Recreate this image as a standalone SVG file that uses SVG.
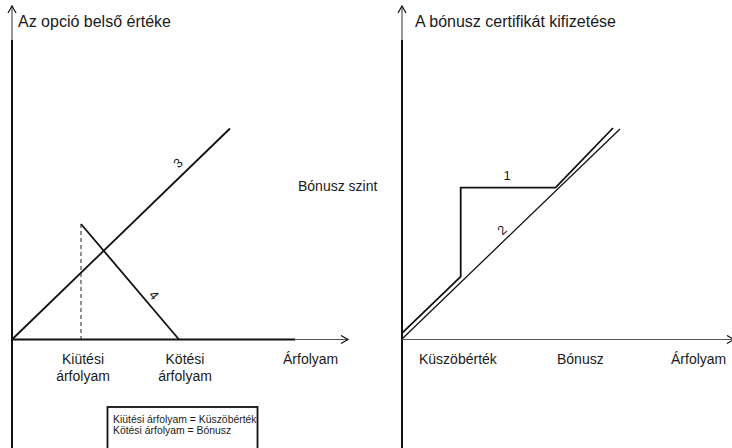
<svg xmlns="http://www.w3.org/2000/svg" width="732" height="448" viewBox="0 0 732 448">
  <style>
    text { font-family: "Liberation Sans", Arial, sans-serif; fill: #1a1a1a; }
    .title { font-size: 16px; }
    .lbl { font-size: 14px; }
    .num { font-size: 13px; }
    .note { font-size: 10.4px; }
    .axis { stroke: #111; stroke-width: 2; fill: none; }
    .axis-thin { stroke: #555; stroke-width: 1.2; fill: none; }
    .curve { stroke: #111; stroke-width: 1.8; fill: none; }
    .curve-thin { stroke: #111; stroke-width: 1.3; fill: none; }
    .dash { stroke: #222; stroke-width: 1; stroke-dasharray: 4 3; fill: none; }
  </style>
  <defs>
    <marker id="open-arrow" markerWidth="10" markerHeight="10" refX="8" refY="5" orient="auto" markerUnits="userSpaceOnUse">
      <path d="M1,1 L8,5 L1,9" fill="none" stroke="#111" stroke-width="1.2"/>
    </marker>
  </defs>
  <rect width="732" height="448" fill="#ffffff"/>

  <!-- Left chart: option intrinsic value -->
  <g id="left-axes">
    <line class="axis-thin" x1="12" y1="40" x2="12" y2="6" marker-end="url(#open-arrow)"/>
    <line class="axis" x1="12" y1="448" x2="12" y2="40"/>
    <line class="axis-thin" x1="12" y1="339.5" x2="348" y2="339.5" marker-end="url(#open-arrow)"/>
    <line class="axis" x1="12" y1="339.5" x2="295" y2="339.5"/>
  </g>
  <g id="left-title"><text class="title" x="18" y="27">Az opció belső értéke</text></g>

  <g id="connectors-left">
    <!-- 3: call payoff -->
    <line class="curve" x1="12" y1="339.5" x2="230" y2="128.5"/>
    <!-- 4: knock-out put payoff -->
    <line class="curve" x1="81" y1="224" x2="179" y2="339.5"/>
    <line class="dash" x1="81" y1="224" x2="81" y2="339"/>
  </g>
  <g id="line-3-label"><text class="num" transform="translate(178,163) rotate(-44)" text-anchor="middle" y="4.5">3</text></g>
  <g id="line-4-label"><text class="num" transform="translate(154,295) rotate(50)" text-anchor="middle" y="4.5">4</text></g>

  <g id="left-ticks">
    <text class="lbl" x="83" y="364" text-anchor="middle">Kiütési</text>
    <text class="lbl" x="83" y="381" text-anchor="middle">árfolyam</text>
    <text class="lbl" x="185" y="364" text-anchor="middle">Kötési</text>
    <text class="lbl" x="185" y="381" text-anchor="middle">árfolyam</text>
    <text class="lbl" x="283" y="364">Árfolyam</text>
  </g>

  <g id="legend">
    <rect x="107.5" y="407" width="150" height="50" fill="#fff" stroke="#111" stroke-width="1.8"/>
    <text class="note" x="113" y="423">Kiütési árfolyam = Küszöbérték</text>
    <text class="note" x="113" y="434">Kötési árfolyam = Bónusz</text>
  </g>

  <!-- Right chart: bonus certificate payoff -->
  <g id="right-axes">
    <line class="axis-thin" x1="402" y1="40" x2="402" y2="6" marker-end="url(#open-arrow)"/>
    <line class="axis" x1="402" y1="448" x2="402" y2="40"/>
    <line class="axis-thin" x1="402" y1="339.5" x2="734" y2="339.5" marker-end="url(#open-arrow)"/>
  </g>
  <g id="right-title"><text class="title" x="415" y="27">A bónusz certifikát kifizetése</text></g>
  <g id="bonus-level"><text class="lbl" x="298" y="191">Bónusz szint</text></g>

  <g id="connectors-right">
    <!-- 2: underlying -->
    <line class="curve-thin" x1="402" y1="339" x2="620" y2="129"/>
    <!-- 1: bonus certificate -->
    <polyline class="curve" points="402,333.2 460.7,276.7 460.7,187.7 555.5,187.7 613,128"/>
  </g>
  <g id="line-1-label"><text class="num" x="507" y="180" text-anchor="middle">1</text></g>
  <g id="line-2-label"><text class="num" transform="translate(502,230) rotate(-44)" text-anchor="middle" y="4.5">2</text></g>

  <g id="right-ticks">
    <text class="lbl" x="419" y="364">Küszöbérték</text>
    <text class="lbl" x="557" y="364">Bónusz</text>
    <text class="lbl" x="671" y="364">Árfolyam</text>
  </g>
</svg>
